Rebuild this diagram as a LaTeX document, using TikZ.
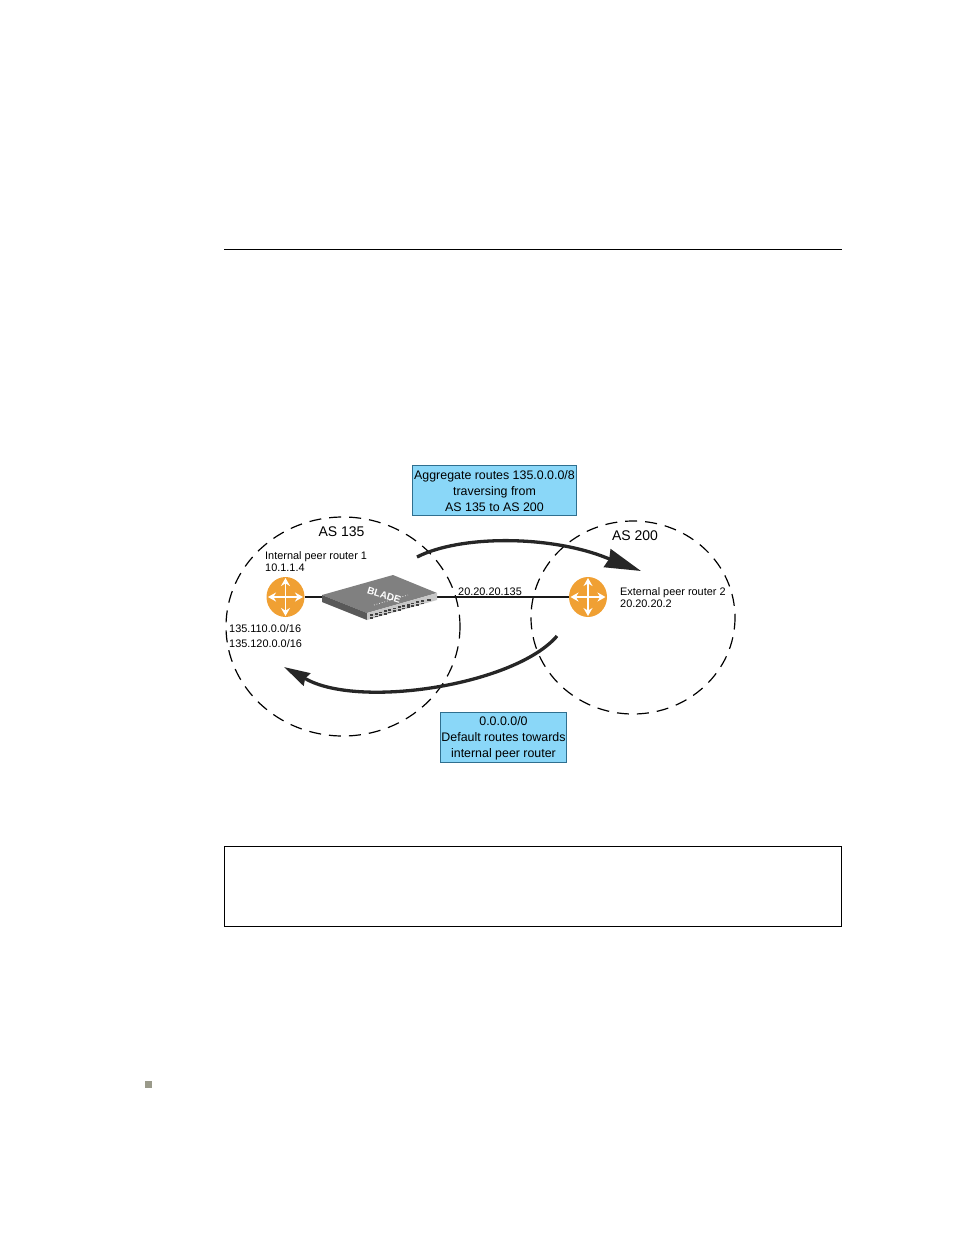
\documentclass[tikz,border=0pt]{standalone}
\usepackage{fontspec}
\setmainfont{Liberation Sans}
\usetikzlibrary{arrows.meta,shapes.geometric}
\definecolor{boxblue}{HTML}{8AD7F8}
\definecolor{boxedge}{HTML}{2F6F8F}
\definecolor{routerorange}{HTML}{F0A033}
\definecolor{bulletgray}{HTML}{9A9A8A}
\begin{document}
\begin{tikzpicture}[
        x=1pt, y=-1pt,
        as_area/.style={draw=black, line width=1.2pt, dash pattern=on 12pt off 8pt},
        router/.style={ellipse, fill=routerorange, minimum width=38pt, minimum height=40pt, inner sep=0pt},
        spoke/.style={draw=white, line width=1.7pt, -{Stealth[length=8pt,width=9pt]}},
        link/.style={draw=black!90, line width=1.3pt},
        callout/.style={draw=boxedge, fill=boxblue, line width=0.6pt, align=center, font=\fontsize{12.4}{16}\selectfont, inner sep=0pt},
        route/.style={draw=black!85, line width=3.3pt},
        label/.style={anchor=west, inner sep=0pt, align=left, font=\fontsize{10.9}{12}\selectfont},
        astext/.style={inner sep=0pt, font=\fontsize{14}{16}\selectfont}
    ]
        \useasboundingbox (0, 0) rectangle (954, 1235);

        % page furniture
        \draw[line width=0.7pt] (224, 249.5) -- (842, 249.5);
        \node[draw=black, line width=0.7pt, minimum width=617.5pt, minimum height=80pt, inner sep=0pt] (notebox) at (533, 886.5) {};
        \node[fill=bulletgray, minimum size=7pt, inner sep=0pt] (bullet) at (148, 1084) {};

        % areas
        \draw[as_area] (343, 626.5) ellipse (117 and 109.5);
        \draw[as_area] (633, 617.5) ellipse (102 and 96.5);

        % routers
        \node[router] (r1) at (285.5, 597) {};
        \node[router] (r2) at (588, 597) {};
        \foreach \r in {r1, r2} {
            \draw[spoke] (\r.center) -- ++(17.5, 0);
            \draw[spoke] (\r.center) -- ++(-17.5, 0);
            \draw[spoke] (\r.center) -- ++(0, -19);
            \draw[spoke] (\r.center) -- ++(0, 19);
        }

        % switch
        \coordinate (swl) at (322, 595);
        \coordinate (swt) at (393, 575);
        \coordinate (swr) at (437, 593);
        \coordinate (swb) at (367, 613);
        \draw[link] (r1) -- (swl |- r1);
        \draw[link] (swr |- r2) -- (r2);
        \fill[black!50] (swl) -- (swt) -- (swr) -- (swb) -- cycle;
        \fill[black!65] (swl) -- (swb) -- (367, 620) -- (322, 602) -- cycle;
        \fill[black!22] (swb) -- (swr) -- (437, 600) -- (367, 620) -- cycle;
        \foreach \i in {0,...,11} {
            \fill[black!75] (370+4.6*\i, 614.2-1.3*\i) rectangle ++(3, 1.7);
            \fill[black!75] (370+4.6*\i, 616.8-1.3*\i) rectangle ++(3, 1.7);
        }
        \fill[black!75] (427, 599) rectangle ++(4, 1.5);
        \node[text=white, inner sep=0pt, rotate=-17, font=\bfseries\fontsize{10}{11}\selectfont] (brand) at (384, 595.5) {BLADE};
        \draw[white, line width=0.7pt, dotted] (374, 605) -- (408, 595);

        % routes
        \coordinate (out_a) at (417, 557);
        \coordinate (out_k) at (607, 558);
        \coordinate (out_b) at (641, 571);
        \coordinate (in_a) at (557, 636);
        \coordinate (in_k) at (306, 679);
        \coordinate (in_b) at (284, 667);
        \draw[route, -{Stealth[length=36pt,width=19pt,inset=2pt]}] (out_a) .. controls (460, 535) and (550, 535) .. (out_k) -- (out_b);
        \draw[route, -{Stealth[length=26pt,width=14pt,inset=2pt]}] (in_a) .. controls (515, 685) and (360, 709) .. (in_k) -- (in_b);

        % labels
        \node[astext] (as1) at (341.5, 532) {AS 135};
        \node[astext] (as2) at (635, 535.5) {AS 200};
        \node[label] (r1_label) at (265, 561.5) {Internal peer router 1\\10.1.1.4};
        \node[label] (r2_label) at (620, 597.5) {External peer router 2\\20.20.20.2};
        \node[label] (net_label) at (229, 636) {135.110.0.0/16\\[3pt]135.120.0.0/16};
        \node[label] (link_label) at (458, 591.5) {20.20.20.135};

        \node[callout, minimum width=164pt, minimum height=50pt] (agg) at (494.5, 490) {\rule{0pt}{11pt}Aggregate routes 135.0.0.0/8\\traversing from\\AS 135 to AS 200};
        \node[callout, minimum width=126pt, minimum height=50pt] (def) at (503.5, 737) {\rule{0pt}{11pt}0.0.0.0/0\\Default routes towards\\internal peer router};
    \end{tikzpicture}
\end{document}
